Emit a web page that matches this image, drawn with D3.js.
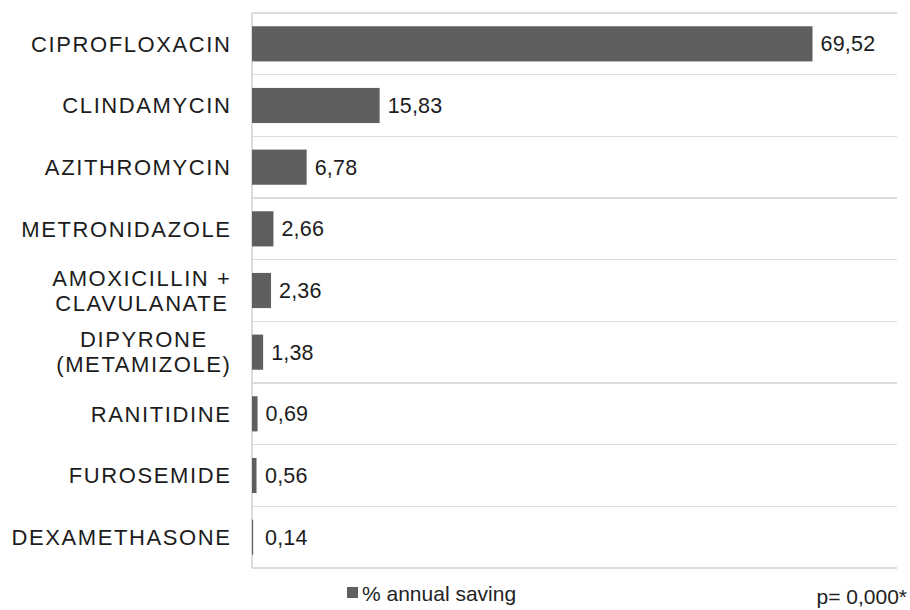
<!DOCTYPE html>
<meta charset="utf-8">
<head>
<style>
body {
  margin: 0;
  background: #fff;
  font-family: 'Liberation Sans', Arial, Helvetica, sans-serif;
}

.grid line {
  stroke: #dcdcdc;
  stroke-width: 1.2;
  shape-rendering: crispEdges;
}

.bar {
  fill: #5f5f5f;
}

.y.axis path {
  display: none;
}

.y.axis text {
  font-size: 22px;
  letter-spacing: 1.6px;
  fill: #1c1c1c;
}

.value {
  font-size: 21.5px;
  letter-spacing: 0.2px;
  fill: #1c1c1c;
}

.legend text {
  font-size: 21px;
  fill: #222;
}
</style>
</head>

<body>
<div id="chart"></div>

<script src="https://d3js.org/d3.v7.min.js"></script>
<script>

// data
var categories = ["CIPROFLOXACIN", "CLINDAMYCIN", "AZITHROMYCIN", "METRONIDAZOLE",
                  "AMOXICILLIN +\nCLAVULANATE", "DIPYRONE\n(METAMIZOLE)",
                  "RANITIDINE", "FUROSEMIDE", "DEXAMETHASONE"];
var saving = [69.52, 15.83, 6.78, 2.66, 2.36, 1.38, 0.69, 0.56, 0.14];
var seriesName = "% annual saving";
var pNote = "p= 0,000*";

var data = categories.map(function(c, i) { return {name: c, value: saving[i]}; });

var width = 910,
    height = 610,
    plotLeft = 252,
    plotRight = 897,
    plotTop = 13,
    plotBottom = 568;

var fmt = function(v) { return d3.format(".2f")(v).replace(".", ","); };

var x = d3.scaleLinear()
    .domain([0, 80])
    .range([plotLeft, plotRight]);

var y = d3.scaleBand()
    .domain(categories)
    .range([plotTop, plotBottom])
    .padding(0);

var barPad = 0.215;

var svg = d3.select("#chart").append("svg")
    .attr("width", width)
    .attr("height", height);

// row separators
var grid = svg.append("g").attr("class", "grid");
var bounds = categories.map(function(c) { return y(c); }).concat([plotBottom]);
grid.selectAll("line.h")
    .data(bounds)
  .enter().append("line")
    .attr("class", "h")
    .attr("x1", x(0))
    .attr("x2", x(80))
    .attr("y1", function(d) { return d; })
    .attr("y2", function(d) { return d; });
grid.append("line")
    .attr("x1", x(0)).attr("x2", x(0))
    .attr("y1", plotTop).attr("y2", plotBottom);

svg.selectAll(".bar")
    .data(data)
  .enter().append("rect")
    .attr("class", "bar")
    .attr("x", x(0))
    .attr("y", function(d) { return y(d.name) + y.bandwidth() * barPad; })
    .attr("width", function(d) { return x(d.value) - x(0); })
    .attr("height", y.bandwidth() * (1 - 2 * barPad));

svg.selectAll(".value")
    .data(data)
  .enter().append("text")
    .attr("class", "value")
    .attr("x", function(d) { return Math.max(x(d.value) + 8, x(0) + 13); })
    .attr("y", function(d) { return y(d.name) + y.bandwidth() / 2 + 7.5; })
    .text(function(d) { return fmt(d.value); });

// category labels
var yAxis = d3.axisLeft(y).tickSize(0).tickPadding(0);
var gy = svg.append("g")
    .attr("class", "y axis")
    .attr("transform", "translate(" + (plotLeft - 20.5) + ",0)")
    .call(yAxis);
gy.selectAll("text")
    .attr("font-family", null)
    .attr("font-size", null)
    .attr("dy", null)
    .attr("y", 7.8)
    .each(function(d) {
      var lines = d.split("\n");
      if (lines.length < 2) return;
      var t = d3.select(this).text(null).attr("y", null);
      var spans = lines.map(function(l, i) {
        return t.append("tspan")
            .attr("y", -5 + i * 25)
            .text(l);
      });
      var w = d3.max(spans, function(s) { return s.node().getComputedTextLength(); });
      t.attr("text-anchor", "middle");
      spans.forEach(function(s) { s.attr("x", -w / 2); });
    });

// legend
var lg = svg.append("g").attr("class", "legend");
lg.append("rect")
    .attr("x", 347).attr("y", 587)
    .attr("width", 11).attr("height", 11)
    .attr("fill", "#5f5f5f");
lg.append("text")
    .attr("x", 362).attr("y", 601)
    .text(seriesName);
lg.append("text")
    .attr("x", 907).attr("y", 604)
    .attr("text-anchor", "end")
    .text(pNote);

</script>
</body>
